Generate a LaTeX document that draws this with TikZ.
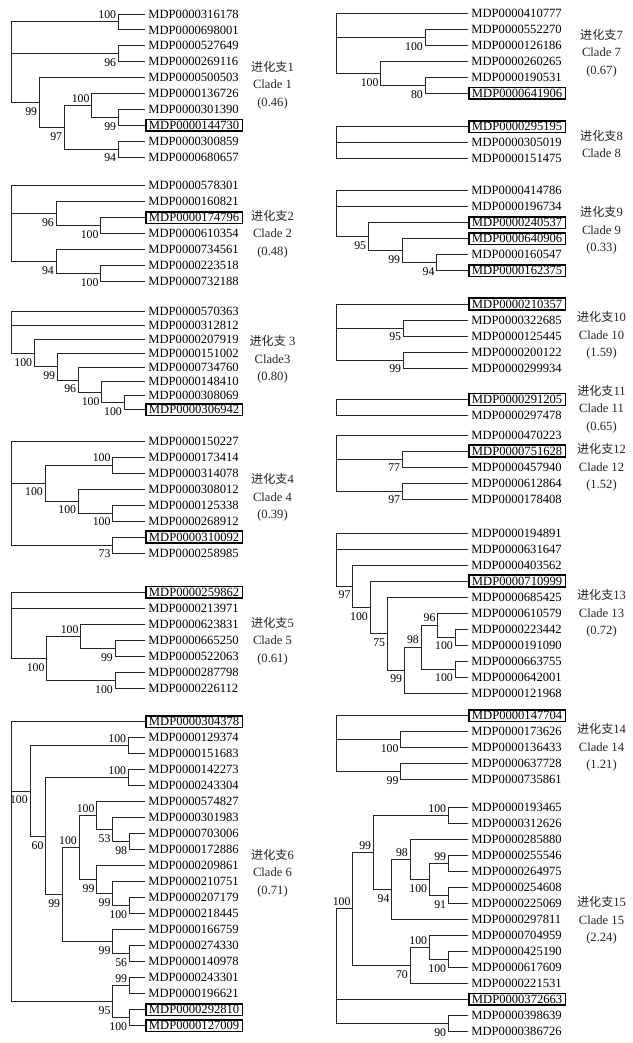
\documentclass[tikz,border=0pt]{standalone}
\usepackage{fontspec}
\setmainfont{Liberation Serif}
\newfontfamily\cjk{Noto Sans CJK SC}
\newcommand\cjt[1]{{\cjk\fontsize{12.1}{17.5}\selectfont #1}}
\begin{document}
\begin{tikzpicture}[x=1pt,y=-1pt,
  leaf/.style={anchor=west, inner xsep=3.2pt, inner ysep=1.7pt, text height=8.4pt, text depth=0pt, font=\fontsize{12.6}{14}\selectfont},
  boxed/.style={leaf, draw=black, line width=1.5pt},
  edge/.style={draw=black!85, line width=0.9pt},
  bsa/.style={anchor=east, inner sep=0pt, xshift=-2pt, yshift=7pt, font=\fontsize{11.8}{13}\selectfont},
  bsb/.style={anchor=east, inner sep=0pt, xshift=-2pt, yshift=-9pt, font=\fontsize{11.8}{13}\selectfont},
  clab/.style={align=center, font=\fontsize{12.6}{17.5}\selectfont, text=black!85, inner sep=0pt}]
\useasboundingbox (0,0) rectangle (632,1043);
\fill[white] (0,0) rectangle (632,1043);
% ---------------- Clade 1
\node[leaf] (a1) at (145,14) {MDP0000316178};
\node[leaf] (a2) at (145,29.9) {MDP0000698001};
\node[leaf] (a3) at (145,45.8) {MDP0000527649};
\node[leaf] (a4) at (145,61.7) {MDP0000269116};
\node[leaf] (a5) at (145,77.6) {MDP0000500503};
\node[leaf] (a6) at (145,93.5) {MDP0000136726};
\node[leaf] (a7) at (145,109.4) {MDP0000301390};
\node[boxed] (a8) at (145,125.3) {MDP0000144730};
\node[leaf] (a9) at (145,141.2) {MDP0000300859};
\node[leaf] (a10) at (145,157.1) {MDP0000680657};
\coordinate (aA) at (118.3,21.95);
\coordinate (aB) at (118.3,53.75);
\coordinate (aF) at (118.3,117.35);
\coordinate (aE) at (91.7,105.4);
\coordinate (aG) at (118.3,149.15);
\coordinate (aD) at (64.3,127.3);
\coordinate (aC) at (39.3,102.45);
\coordinate (aR) at (11.7,62.2);
\node[clab] (t1) at (272.5,85) {\cjt{进化支}1\\Clade 1\\(0.46)};
% ---------------- Clade 2
\node[leaf] (b1) at (145,185.7) {MDP0000578301};
\node[leaf] (b2) at (145,201.7) {MDP0000160821};
\node[boxed] (b3) at (145,217.7) {MDP0000174796};
\node[leaf] (b4) at (145,233.7) {MDP0000610354};
\node[leaf] (b5) at (145,249.7) {MDP0000734561};
\node[leaf] (b6) at (145,265.7) {MDP0000223518};
\node[leaf] (b7) at (145,281.7) {MDP0000732188};
\coordinate (bC) at (100.7,225.7);
\coordinate (bB) at (56,213.7);
\coordinate (bE) at (100.7,273.7);
\coordinate (bD) at (56,261.7);
\coordinate (bR) at (11.7,223.7);
\node[clab] (t2) at (272.5,234) {\cjt{进化支}2\\Clade 2\\(0.48)};
% ---------------- Clade 3
\node[leaf] (c1) at (145,311.7) {MDP0000570363};
\node[leaf] (c2) at (145,325.7) {MDP0000312812};
\node[leaf] (c3) at (145,339.7) {MDP0000207919};
\node[leaf] (c4) at (145,353.7) {MDP0000151002};
\node[leaf] (c5) at (145,367.7) {MDP0000734760};
\node[leaf] (c6) at (145,381.7) {MDP0000148410};
\node[leaf] (c7) at (145,395.7) {MDP0000308069};
\node[boxed] (c8) at (145,409.7) {MDP0000306942};
\coordinate (cF) at (124,402.7);
\coordinate (cE) at (101.7,392.2);
\coordinate (cD) at (78.3,379.95);
\coordinate (cC) at (57.3,366.8);
\coordinate (cB) at (34.3,353.25);
\coordinate (cR) at (11.7,332.5);
\node[clab] (t3) at (272.5,359.5) {\cjt{进化支} 3\\Clade3\\(0.80)};
% ---------------- Clade 4
\node[leaf] (d1) at (145,441) {MDP0000150227};
\node[leaf] (d2) at (145,457) {MDP0000173414};
\node[leaf] (d3) at (145,473) {MDP0000314078};
\node[leaf] (d4) at (145,489) {MDP0000308012};
\node[leaf] (d5) at (145,505) {MDP0000125338};
\node[leaf] (d6) at (145,521) {MDP0000268912};
\node[boxed] (d7) at (145,537) {MDP0000310092};
\node[leaf] (d8) at (145,553) {MDP0000258985};
\coordinate (dC) at (112.7,465);
\coordinate (dE) at (112.7,513);
\coordinate (dD) at (78.3,501);
\coordinate (dB) at (45,483);
\coordinate (dF) at (112.7,545);
\coordinate (dR) at (11.7,493);
\node[clab] (t4) at (272.5,497.5) {\cjt{进化支}4\\Clade 4\\(0.39)};
% ---------------- Clade 5
\node[boxed] (e1) at (145,592.3) {MDP0000259862};
\node[leaf] (e2) at (145,608.3) {MDP0000213971};
\node[leaf] (e3) at (145,624.3) {MDP0000623831};
\node[leaf] (e4) at (145,640.3) {MDP0000665250};
\node[leaf] (e5) at (145,656.3) {MDP0000522063};
\node[leaf] (e6) at (145,672.3) {MDP0000287798};
\node[leaf] (e7) at (145,688.3) {MDP0000226112};
\coordinate (eD) at (115,648.3);
\coordinate (eC) at (80.7,636.3);
\coordinate (eE) at (115,680.3);
\coordinate (eB) at (46.7,658.3);
\coordinate (eR) at (11.7,625.3);
\node[clab] (t5) at (272.5,641) {\cjt{进化支}5\\Clade 5\\(0.61)};
% ---------------- Clade 6
\node[boxed] (f1) at (145,721.7) {MDP0000304378};
\node[leaf] (f2) at (145,737.7) {MDP0000129374};
\node[leaf] (f3) at (145,753.7) {MDP0000151683};
\node[leaf] (f4) at (145,769.7) {MDP0000142273};
\node[leaf] (f5) at (145,785.7) {MDP0000243304};
\node[leaf] (f6) at (145,801.7) {MDP0000574827};
\node[leaf] (f7) at (145,817.7) {MDP0000301983};
\node[leaf] (f8) at (145,833.7) {MDP0000703006};
\node[leaf] (f9) at (145,849.7) {MDP0000172886};
\node[leaf] (f10) at (145,865.7) {MDP0000209861};
\node[leaf] (f11) at (145,881.7) {MDP0000210751};
\node[leaf] (f12) at (145,897.7) {MDP0000207179};
\node[leaf] (f13) at (145,913.7) {MDP0000218445};
\node[leaf] (f14) at (145,929.7) {MDP0000166759};
\node[leaf] (f15) at (145,945.7) {MDP0000274330};
\node[leaf] (f16) at (145,961.7) {MDP0000140978};
\node[leaf] (f17) at (145,977.7) {MDP0000243301};
\node[leaf] (f18) at (145,993.7) {MDP0000196621};
\node[boxed] (f19) at (145,1009.7) {MDP0000292810};
\node[boxed] (f20) at (145,1025.7) {MDP0000127009};
\coordinate (fA) at (128.3,745.7);
\coordinate (fB) at (128.3,777.7);
\coordinate (fH) at (129.3,841.7);
\coordinate (fG) at (112.7,829.7);
\coordinate (fF) at (96.7,815.7);
\coordinate (fK) at (129.3,905.7);
\coordinate (fJ) at (112.7,893.7);
\coordinate (fI) at (96.7,879.7);
\coordinate (fE) at (79,847.7);
\coordinate (fM) at (129.3,953.7);
\coordinate (fL) at (112.7,941.7);
\coordinate (fD) at (62.3,894.7);
\coordinate (fC) at (45.7,836.2);
\coordinate (fX) at (30,790.95);
\coordinate (fO) at (129.3,985.7);
\coordinate (fP) at (129.3,1017.7);
\coordinate (fN) at (112.7,1001.7);
\coordinate (fR) at (11.7,861.7);
\node[clab] (t6) at (272.5,873) {\cjt{进化支}6\\Clade 6\\(0.71)};
% ---------------- Clade 7
\node[leaf] (g1) at (468,13.3) {MDP0000410777};
\node[leaf] (g2) at (468,29.3) {MDP0000552270};
\node[leaf] (g3) at (468,45.3) {MDP0000126186};
\node[leaf] (g4) at (468,61.3) {MDP0000260265};
\node[leaf] (g5) at (468,77.3) {MDP0000190531};
\node[boxed] (g6) at (468,93.3) {MDP0000641906};
\coordinate (gA) at (425,37.3);
\coordinate (gC) at (425,85.3);
\coordinate (gB) at (380.7,73.3);
\coordinate (gR) at (336.7,43.3);
\node[clab] (t7) at (601.5,53) {\cjt{进化支}7\\Clade 7\\(0.67)};
% ---------------- Clade 8
\node[boxed] (h1) at (468,126.7) {MDP0000295195};
\node[leaf] (h2) at (468,142.7) {MDP0000305019};
\node[leaf] (h3) at (468,158.7) {MDP0000151475};
\coordinate (hR) at (336.7,142.7);
\node[clab] (t8) at (601.5,144) {\cjt{进化支}8\\Clade 8};
% ---------------- Clade 9
\node[leaf] (i1) at (468,190.7) {MDP0000414786};
\node[leaf] (i2) at (468,206.7) {MDP0000196734};
\node[boxed] (i3) at (468,222.7) {MDP0000240537};
\node[boxed] (i4) at (468,238.7) {MDP0000640906};
\node[leaf] (i5) at (468,254.7) {MDP0000160547};
\node[boxed] (i6) at (468,270.7) {MDP0000162375};
\coordinate (iD) at (436.7,262.7);
\coordinate (iC) at (402.3,250.7);
\coordinate (iB) at (368.3,236.7);
\coordinate (iR) at (336.7,213.7);
\node[clab] (t9) at (601.5,230.7) {\cjt{进化支}9\\Clade 9\\(0.33)};
% ---------------- Clade 10
\node[boxed] (j1) at (468,304) {MDP0000210357};
\node[leaf] (j2) at (468,320) {MDP0000322685};
\node[leaf] (j3) at (468,336) {MDP0000125445};
\node[leaf] (j4) at (468,352) {MDP0000200122};
\node[leaf] (j5) at (468,368) {MDP0000299934};
\coordinate (jA) at (403.3,328);
\coordinate (jB) at (403.3,360);
\coordinate (jR) at (336.7,332);
\node[clab] (t10) at (601.5,335.5) {\cjt{进化支}10\\Clade 10\\(1.59)};
% ---------------- Clade 11
\node[boxed] (k1) at (468,399.5) {MDP0000291205};
\node[leaf] (k2) at (468,415.5) {MDP0000297478};
\coordinate (kR) at (336.7,407.5);
\node[clab] (t11) at (601.5,409) {\cjt{进化支}11\\Clade 11\\(0.65)};
% ---------------- Clade 12
\node[leaf] (l1) at (468,435) {MDP0000470223};
\node[boxed] (l2) at (468,451) {MDP0000751628};
\node[leaf] (l3) at (468,467) {MDP0000457940};
\node[leaf] (l4) at (468,483) {MDP0000612864};
\node[leaf] (l5) at (468,499) {MDP0000178408};
\coordinate (lA) at (402.3,459);
\coordinate (lB) at (402.3,491);
\coordinate (lR) at (336.7,463);
\node[clab] (t12) at (601.5,467.5) {\cjt{进化支}12\\Clade 12\\(1.52)};
% ---------------- Clade 13
\node[leaf] (m1) at (468,533) {MDP0000194891};
\node[leaf] (m2) at (468,549) {MDP0000631647};
\node[leaf] (m3) at (468,565) {MDP0000403562};
\node[boxed] (m4) at (468,581) {MDP0000710999};
\node[leaf] (m5) at (468,597) {MDP0000685425};
\node[leaf] (m6) at (468,613) {MDP0000610579};
\node[leaf] (m7) at (468,629) {MDP0000223442};
\node[leaf] (m8) at (468,645) {MDP0000191090};
\node[leaf] (m9) at (468,661) {MDP0000663755};
\node[leaf] (m10) at (468,677) {MDP0000642001};
\node[leaf] (m11) at (468,693) {MDP0000121968};
\coordinate (mG) at (455,637);
\coordinate (mF) at (437.7,625);
\coordinate (mH) at (455,669);
\coordinate (mE) at (421,647);
\coordinate (mD) at (404.3,670);
\coordinate (mC) at (387.3,633.5);
\coordinate (mB) at (370,607.25);
\coordinate (mA) at (352.7,586.1);
\coordinate (mR) at (336.7,559.6);
\node[clab] (t13) at (601.5,613.3) {\cjt{进化支}13\\Clade 13\\(0.72)};
% ---------------- Clade 14
\node[boxed] (n1) at (468,715.7) {MDP0000147704};
\node[leaf] (n2) at (468,731.7) {MDP0000173626};
\node[leaf] (n3) at (468,747.7) {MDP0000136433};
\node[leaf] (n4) at (468,763.7) {MDP0000637728};
\node[leaf] (n5) at (468,779.7) {MDP0000735861};
\coordinate (nA) at (400.7,739.7);
\coordinate (nB) at (400.7,771.7);
\coordinate (nR) at (336.7,743.7);
\node[clab] (t14) at (601.5,747.5) {\cjt{进化支}14\\Clade 14\\(1.21)};
% ---------------- Clade 15
\node[leaf] (o1) at (468,807.3) {MDP0000193465};
\node[leaf] (o2) at (468,823.3) {MDP0000312626};
\node[leaf] (o3) at (468,839.3) {MDP0000285880};
\node[leaf] (o4) at (468,855.3) {MDP0000255546};
\node[leaf] (o5) at (468,871.3) {MDP0000264975};
\node[leaf] (o6) at (468,887.3) {MDP0000254608};
\node[leaf] (o7) at (468,903.3) {MDP0000225069};
\node[leaf] (o8) at (468,919.3) {MDP0000297811};
\node[leaf] (o9) at (468,935.3) {MDP0000704959};
\node[leaf] (o10) at (468,951.3) {MDP0000425190};
\node[leaf] (o11) at (468,967.3) {MDP0000617609};
\node[leaf] (o12) at (468,983.3) {MDP0000221531};
\node[boxed] (o13) at (468,999.3) {MDP0000372663};
\node[leaf] (o14) at (468,1015.3) {MDP0000398639};
\node[leaf] (o15) at (468,1031.3) {MDP0000386726};
\coordinate (oA) at (448.3,815.3);
\coordinate (oF) at (448.3,863.3);
\coordinate (oG) at (448.3,895.3);
\coordinate (oE) at (429.3,879.3);
\coordinate (oD) at (410,859.3);
\coordinate (oC) at (391.7,889.3);
\coordinate (oB) at (373.3,852.3);
\coordinate (oJ) at (448.3,959.3);
\coordinate (oI) at (429.3,947.3);
\coordinate (oH) at (410,965.3);
\coordinate (oN) at (352.7,908.8);
\coordinate (oL) at (448.3,1023.3);
\coordinate (oR) at (336.7,966);
\node[clab] (t15) at (601.5,920.7) {\cjt{进化支}15\\Clade 15\\(2.24)};
% ---------------- branches
\foreach \p/\c in {aR/aA,aR/aB,aR/aC,aA/a1,aA/a2,aB/a3,aB/a4,aC/a5,aC/aD,aD/aE,aD/aG,aE/a6,aE/aF,aF/a7,aF/a8,aG/a9,aG/a10,
 bR/b1,bR/bB,bR/bD,bB/b2,bB/bC,bC/b3,bC/b4,bD/b5,bD/bE,bE/b6,bE/b7,
 cR/c1,cR/c2,cR/cB,cB/c3,cB/cC,cC/c4,cC/cD,cD/c5,cD/cE,cE/c6,cE/cF,cF/c7,cF/c8,
 dR/d1,dR/dB,dR/dF,dB/dC,dB/dD,dC/d2,dC/d3,dD/d4,dD/dE,dE/d5,dE/d6,dF/d7,dF/d8,
 eR/e1,eR/e2,eR/eB,eB/eC,eB/eE,eC/e3,eC/eD,eD/e4,eD/e5,eE/e6,eE/e7,
 fR/f1,fR/fX,fR/fN,fX/fA,fX/fC,fA/f2,fA/f3,fC/fB,fC/fD,fB/f4,fB/f5,fD/fE,fD/fL,fE/fF,fE/fI,fF/f6,fF/fG,fG/f7,fG/fH,fH/f8,fH/f9,fI/f10,fI/fJ,fJ/f11,fJ/fK,fK/f12,fK/f13,fL/f14,fL/fM,fM/f15,fM/f16,fN/fO,fN/fP,fO/f17,fO/f18,fP/f19,fP/f20,
 gR/g1,gR/gA,gR/gB,gA/g2,gA/g3,gB/g4,gB/gC,gC/g5,gC/g6,
 hR/h1,hR/h2,hR/h3,
 iR/i1,iR/i2,iR/iB,iB/i3,iB/iC,iC/i4,iC/iD,iD/i5,iD/i6,
 jR/j1,jR/jA,jR/jB,jA/j2,jA/j3,jB/j4,jB/j5,
 kR/k1,kR/k2,
 lR/l1,lR/lA,lR/lB,lA/l2,lA/l3,lB/l4,lB/l5,
 mR/m1,mR/m2,mR/mA,mA/m3,mA/mB,mB/m4,mB/mC,mC/m5,mC/mD,mD/mE,mD/m11,mE/mF,mE/mH,mF/m6,mF/mG,mG/m7,mG/m8,mH/m9,mH/m10,
 nR/n1,nR/nA,nR/nB,nA/n2,nA/n3,nB/n4,nB/n5,
 oR/oN,oR/o13,oR/oL,oN/oB,oN/oH,oB/oA,oB/oC,oA/o1,oA/o2,oC/oD,oC/o8,oD/o3,oD/oE,oE/oF,oE/oG,oF/o4,oF/o5,oG/o6,oG/o7,oH/oI,oH/o12,oI/o9,oI/oJ,oJ/o10,oJ/o11,oL/o14,oL/o15}
 \draw[edge] (\p) |- (\c);
% ---------------- bootstrap values
\foreach \n/\t in {aA/100,aE/100,dC/100,eC/100,fA/100,fB/100,fE/100,fF/100,fO/99,mE/98,mF/96,oN/100,oB/99,oA/100,oD/98,oF/99,oI/100}
 \node[bsa] (s\n) at (\n) {\t};
\foreach \n/\t in {aB/96,aC/99,aD/97,aF/99,aG/94,bB/96,bC/100,bD/94,bE/100,cB/100,cC/99,cD/96,cE/100,cF/100,dB/100,dD/100,dE/100,dF/73,eB/100,eD/99,eE/100,fX/100,fC/60,fD/99,fG/53,fH/98,fI/99,fJ/99,fK/100,fL/99,fM/56,fN/95,fP/100,gA/100,gB/100,gC/80,iB/95,iC/99,iD/94,jA/95,jB/99,lA/77,lB/97,mA/97,mB/100,mC/75,mD/99,mG/100,mH/100,nA/100,nB/99,oC/94,oE/100,oG/91,oH/70,oJ/100,oL/90}
 \node[bsb] (s\n) at (\n) {\t};
\end{tikzpicture}
\end{document}
